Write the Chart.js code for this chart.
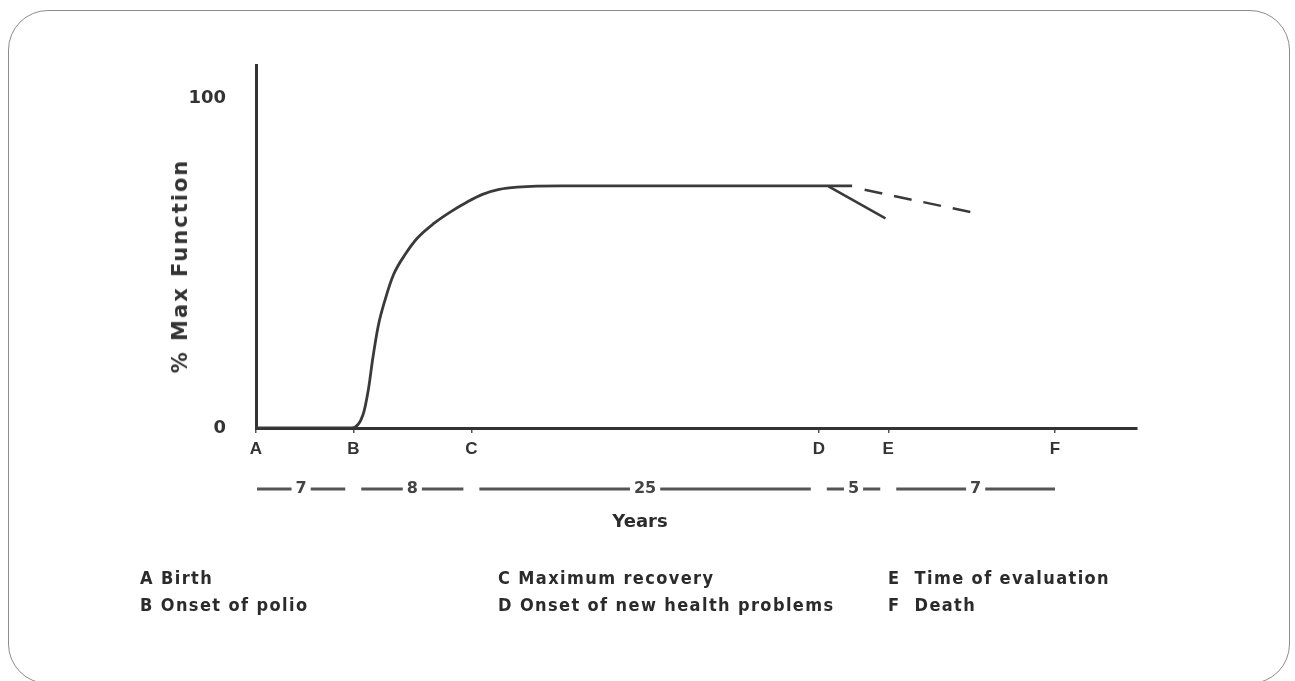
<!DOCTYPE html>
<html lang="en">
<head>
  <meta charset="UTF-8">
  <title>Post-polio function over time</title>
  <script src="https://cdn.jsdelivr.net/npm/chart.js@4/dist/chart.umd.min.js"></script>
  <style>
    html, body { margin: 0; padding: 0; background: #fff; }
    #wrap { position: relative; width: 1295px; height: 681px; overflow: hidden; }
    #frame { position: absolute; left: 8px; top: 10px; width: 1280px; height: 672px;
      border: 1px solid #8c8c8c; border-radius: 40px; }
    #chart { position: absolute; left: 0; top: 0; }
    #ytitle { position: absolute; left: 180px; top: 266px; transform: translate(-50%, -50%) rotate(-90deg);
      font: bold 21px "DejaVu Sans", sans-serif; letter-spacing: 2px; color: #333; white-space: pre; }
    #years { position: absolute; left: 640px; top: 510px; transform: translateX(-50%);
      font: bold 18px "DejaVu Sans", sans-serif; color: #2b2b2b; }
    .key { position: absolute; font: bold 18px "DejaVu Sans Condensed", "DejaVu Sans", sans-serif;
      letter-spacing: 1.4px; color: #2b2b2b; white-space: pre; }
  </style>
</head>
<body>
<div id="wrap">
  <div id="frame"></div>
  <canvas id="chart" width="1295" height="681"></canvas>
  <div id="ytitle">% Max Function</div>
  <div id="years">Years</div>
  <div id="legend"></div>
</div>
<script>
  // Time points (years, as laid out on the axis)
  const tickLetters = ['A', 'B', 'C', 'D', 'E', 'F'];
  const tickYears = [0, 7, 15.5, 40.5, 45.5, 57.5];
  const spanLabels = ['7', '8', '25', '5', '7'];

  // Main course: nothing until B, recovery to a plateau
  const mainX = [0, 6.9, 7.7, 8.1, 8.4, 8.8, 9.3, 9.9, 10.8, 11.6, 12.8, 14.0, 15.2, 16.3, 17.5, 18.8, 22, 42.9];
  const mainY = [0, 0, 4, 12, 21, 31, 39, 46.5, 53, 57.5, 62, 65.5, 68.5, 70.8, 72.3, 73, 73.4, 73.4];

  // Decline after D (actual) and expected (dashed)
  const declineX = [41.2, 45.3];
  const declineY = [73.2, 63.5];
  const expectedX = [43.8, 51.9];
  const expectedY = [72.2, 65.0];

  const legendKeys = ['A', 'B', 'C', 'D', 'E', 'F'];
  const legendText = ['Birth', 'Onset of polio', 'Maximum recovery',
    'Onset of new health problems', 'Time of evaluation', 'Death'];

  const pts = (xs, ys) => xs.map((x, i) => ({ x: x, y: ys[i] }));
  const ink = '#3a3a3a';

  // spans row (— 7 — — 8 — ...) drawn under the letters from the x scale
  const spanPlugin = {
    id: 'spans',
    afterDraw(chart) {
      const ctx = chart.ctx;
      const xs = chart.scales.x;
      const y = 489;
      ctx.save();
      ctx.font = 'bold 16px "DejaVu Sans", sans-serif';
      ctx.fillStyle = '#444';
      ctx.strokeStyle = '#555';
      ctx.lineWidth = 3;
      ctx.textAlign = 'center';
      ctx.textBaseline = 'middle';
      const last = spanLabels.length - 1;
      for (let i = 0; i < spanLabels.length; i++) {
        const a = xs.getPixelForValue(tickYears[i]) + (i === 0 ? 1 : 8);
        const b = xs.getPixelForValue(tickYears[i + 1]) - (i === last ? 0 : 8);
        const mid = (a + b) / 2;
        const half = ctx.measureText(spanLabels[i]).width / 2 + 4;
        ctx.beginPath();
        ctx.moveTo(a, y); ctx.lineTo(mid - half, y);
        ctx.moveTo(mid + half, y); ctx.lineTo(b, y);
        ctx.stroke();
        ctx.fillText(spanLabels[i], mid, y);
      }
      ctx.restore();
    }
  };

  new Chart(document.getElementById('chart'), {
    type: 'line',
    data: {
      datasets: [
        { data: pts(mainX, mainY), borderColor: ink, borderWidth: 2.8,
          cubicInterpolationMode: 'monotone', pointRadius: 0 },
        { data: pts(declineX, declineY), borderColor: ink, borderWidth: 2.5, pointRadius: 0 },
        { data: pts(expectedX, expectedY), borderColor: ink, borderWidth: 2.5,
          borderDash: [18, 12], pointRadius: 0 }
      ]
    },
    options: {
      responsive: false,
      animation: false,
      layout: { padding: { left: 166, top: 65, right: 158, bottom: 213 } },
      plugins: { legend: { display: false }, tooltip: { enabled: false } },
      scales: {
        x: {
          type: 'linear', min: 0, max: 63.4,
          afterFit: s => { s.height = 40; },
          afterBuildTicks: s => { s.ticks = tickYears.map(v => ({ value: v })); },
          grid: { drawOnChartArea: false, tickLength: 5, color: '#555', lineWidth: 1.5 },
          border: { color: '#333', width: 3 },
          ticks: {
            autoSkip: false, maxRotation: 0, padding: 6, color: '#333',
            font: { family: '"Liberation Sans", Arial, sans-serif', size: 17, weight: 'bold' },
            callback: (v, i) => tickLetters[i]
          }
        },
        y: {
          min: 0, max: 110,
          afterFit: s => { s.width = 90; },
          afterBuildTicks: s => { s.ticks = [{ value: 0 }, { value: 100 }]; },
          grid: { display: false },
          border: { color: '#333', width: 3 },
          ticks: {
            padding: 22, color: '#333',
            font: { family: '"DejaVu Sans", sans-serif', size: 18, weight: 'bold' }
          }
        }
      }
    },
    plugins: [spanPlugin]
  });

  // key below the chart, three columns of two rows
  const colX = [140, 498, 888];
  const rowY = [567, 594];
  const legend = document.getElementById('legend');
  legendKeys.forEach((k, i) => {
    const d = document.createElement('div');
    d.className = 'key';
    d.style.left = colX[Math.floor(i / 2)] + 'px';
    d.style.top = rowY[i % 2] + 'px';
    d.textContent = k + (i >= 4 ? '  ' : ' ') + legendText[i];
    legend.appendChild(d);
  });
</script>
</body>
</html>
